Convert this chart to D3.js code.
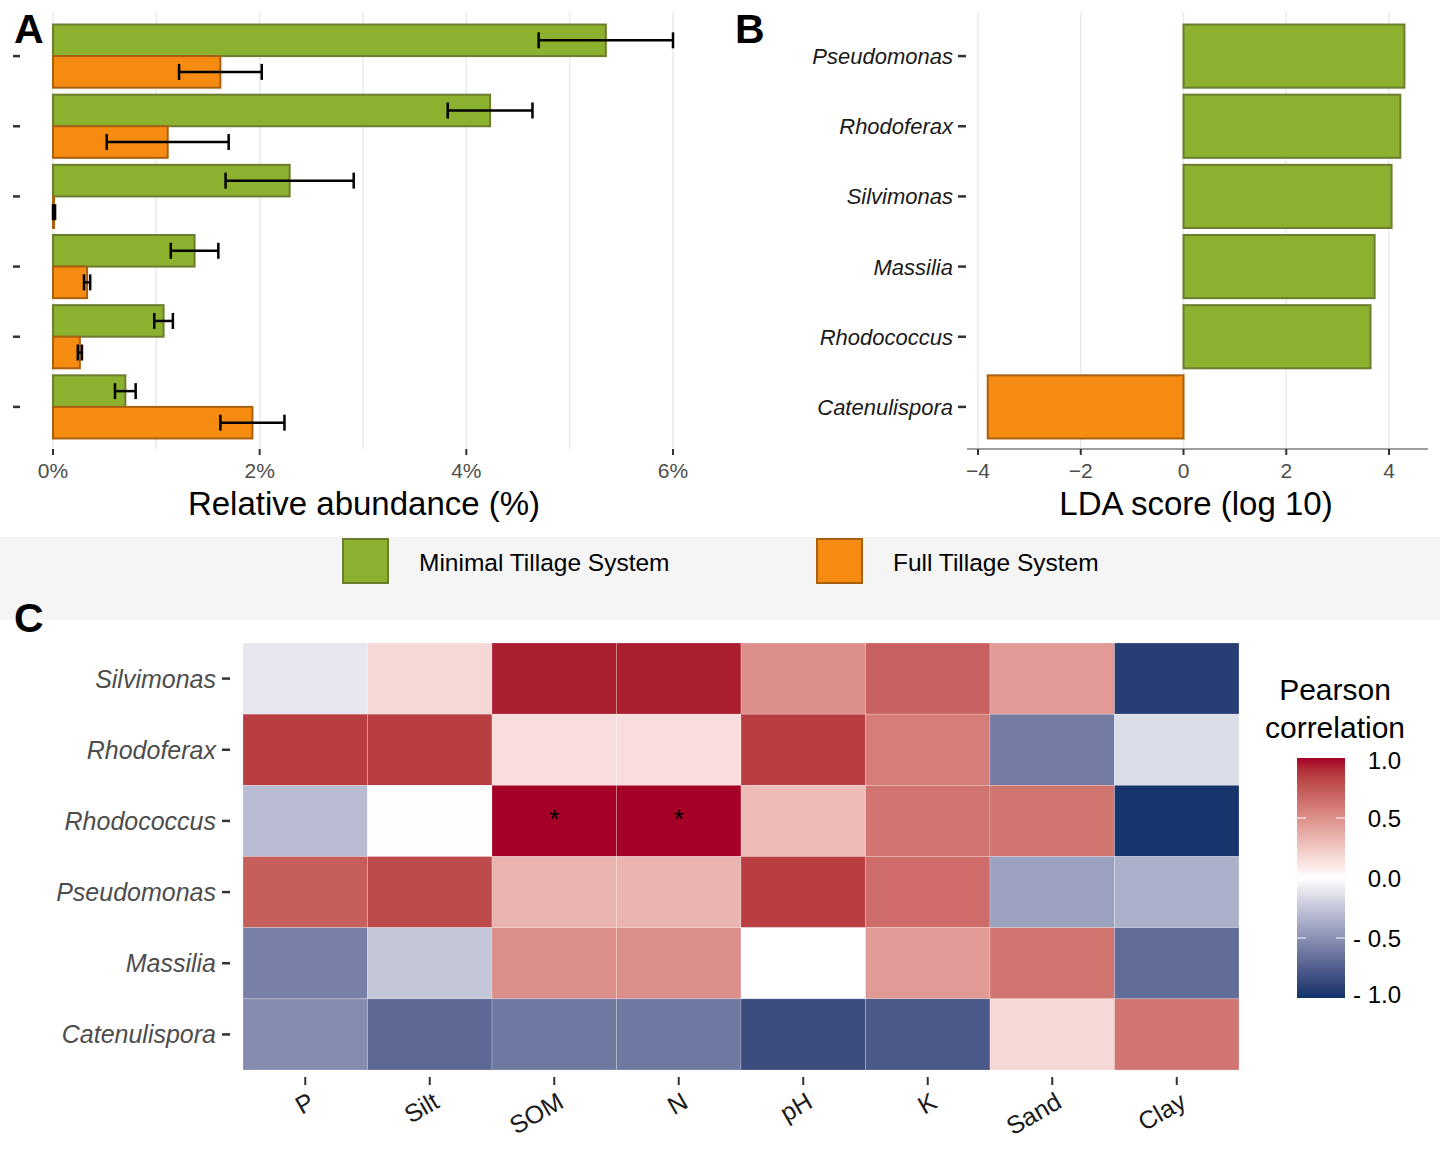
<!DOCTYPE html>
<html>
<head>
<meta charset="utf-8">
<script src="https://cdn.jsdelivr.net/npm/d3@7"></script>
<style>
  body { margin: 0; background: #fff; }
  svg { display: block; font-family: "Liberation Sans", Arial, sans-serif; }
</style>
</head>
<body>
<div class="chart"></div>
<script>
// ---- data ----
var genera = ['Pseudomonas', 'Rhodoferax', 'Silvimonas', 'Massilia', 'Rhodococcus', 'Catenulispora'];
var minimalMean = [5.35, 4.23, 2.29, 1.37, 1.07, 0.70];
var minimalSd   = [0.65, 0.41, 0.62, 0.23, 0.09, 0.10];
var fullMean    = [1.62, 1.11, 0.01, 0.33, 0.26, 1.93];
var fullSd      = [0.40, 0.59, 0.01, 0.03, 0.02, 0.31];
var abundTicks  = [0, 2, 4, 6];

var ldaScores = [4.30, 4.22, 4.05, 3.72, 3.64, -3.81];
var ldaTicks  = [-4, -2, 0, 2, 4];

var systems = ['Minimal Tillage System', 'Full Tillage System'];

var heatRows = ['Silvimonas', 'Rhodoferax', 'Rhodococcus', 'Pseudomonas', 'Massilia', 'Catenulispora'];
var heatCols = ['P', 'Silt', 'SOM', 'N', 'pH', 'K', 'Sand', 'Clay'];
var corr = [
  [-0.10, 0.17, 0.95, 0.95, 0.50, 0.70, 0.45, -0.93],
  [ 0.85, 0.85, 0.15, 0.15, 0.85, 0.58, -0.60, -0.15],
  [-0.30, 0.01, 1.00, 1.00, 0.30, 0.62, 0.62, -0.98],
  [ 0.72, 0.80, 0.33, 0.33, 0.85, 0.66, -0.42, -0.35],
  [-0.58, -0.25, 0.50, 0.50, 0.00, 0.45, 0.62, -0.68],
  [-0.52, -0.70, -0.62, -0.62, -0.85, -0.78, 0.17, 0.62]
];
var signif = [
  [0, 0, 0, 0, 0, 0, 0, 0],
  [0, 0, 0, 0, 0, 0, 0, 0],
  [0, 0, 1, 1, 0, 0, 0, 0],
  [0, 0, 0, 0, 0, 0, 0, 0],
  [0, 0, 0, 0, 0, 0, 0, 0],
  [0, 0, 0, 0, 0, 0, 0, 0]
];
var legendTicks = [1, 0.5, 0, -0.5, -1];
var legendLabels = ['1.0', '0.5', '0.0', '- 0.5', '- 1.0'];

var green = '#8cb12e', greenLine = '#6c7d2f';
var orange = '#f68b12', orangeLine = '#a9600f';
var gridCol = '#ebebeb';

var svg = d3.select('.chart')
  .append('svg')
    .attr('width', 1440)
    .attr('height', 1160);

// ---- panel A ----
var a = svg.append('g');
var xA = d3.scaleLinear().domain([0, 6]).range([53, 673]);
var yA = d3.scalePoint().domain(genera).range([14, 449]).padding(0.6);
var barH = yA.step() * 0.9 / 2;

a.selectAll('.grid')
  .data(d3.range(0, 7))
  .enter().append('line')
    .attr('x1', d => xA(d)).attr('x2', d => xA(d))
    .attr('y1', 12).attr('y2', 449)
    .style('stroke', gridCol).style('stroke-width', 1.6);

var groups = genera.map((g, i) => ({ g: g, i: i }));

a.selectAll('.bm').data(groups).enter().append('rect')
  .attr('x', xA(0))
  .attr('y', d => yA(d.g) - barH)
  .attr('width', d => xA(minimalMean[d.i]) - xA(0))
  .attr('height', barH)
  .style('fill', green).style('stroke', greenLine).style('stroke-width', 2);

a.selectAll('.bf').data(groups).enter().append('rect')
  .attr('x', xA(0))
  .attr('y', d => yA(d.g))
  .attr('width', d => Math.max(1, xA(fullMean[d.i]) - xA(0)))
  .attr('height', barH)
  .style('fill', orange).style('stroke', orangeLine).style('stroke-width', 2);

function errBars(mean, sd, off) {
  groups.forEach(function (d) {
    var cy = yA(d.g) + off;
    var lo = xA(mean[d.i] - sd[d.i]), hi = xA(mean[d.i] + sd[d.i]);
    var e = a.append('g').style('stroke', '#000').style('stroke-width', 2.5);
    e.append('line').attr('x1', lo).attr('x2', hi).attr('y1', cy).attr('y2', cy);
    e.append('line').attr('x1', lo).attr('x2', lo).attr('y1', cy - 8).attr('y2', cy + 8);
    e.append('line').attr('x1', hi).attr('x2', hi).attr('y1', cy - 8).attr('y2', cy + 8);
  });
}
errBars(minimalMean, minimalSd, -barH / 2);
errBars(fullMean, fullSd, barH / 2);

a.selectAll('.ytick').data(genera).enter().append('line')
  .attr('x1', 13).attr('x2', 20)
  .attr('y1', d => yA(d)).attr('y2', d => yA(d))
  .style('stroke', '#333').style('stroke-width', 2.5);

a.selectAll('.xtick').data(abundTicks).enter().append('line')
  .attr('x1', d => xA(d)).attr('x2', d => xA(d))
  .attr('y1', 449).attr('y2', 455)
  .style('stroke', '#333').style('stroke-width', 2);
a.selectAll('.xlab').data(abundTicks).enter().append('text')
  .attr('x', d => xA(d)).attr('y', 478)
  .attr('text-anchor', 'middle')
  .style('font-size', '21px').style('fill', '#4d4d4d')
  .text(d => d + '%');
a.append('text')
  .attr('x', 364).attr('y', 515)
  .attr('text-anchor', 'middle')
  .style('font-size', '33px').style('fill', '#000')
  .text('Relative abundance (%)');
a.append('text')
  .attr('x', 14).attr('y', 43)
  .style('font-size', '41px').style('font-weight', 'bold')
  .text('A');

// ---- panel B ----
var b = svg.append('g');
var xB = d3.scaleLinear().domain([-4.214, 4.759]).range([967, 1428]);

b.selectAll('.grid').data(ldaTicks).enter().append('line')
  .attr('x1', d => xB(d)).attr('x2', d => xB(d))
  .attr('y1', 12).attr('y2', 449)
  .style('stroke', gridCol).style('stroke-width', 1.6);

b.selectAll('.bar').data(groups).enter().append('rect')
  .attr('x', d => xB(Math.min(0, ldaScores[d.i])))
  .attr('y', d => yA(d.g) - barH)
  .attr('width', d => Math.abs(xB(ldaScores[d.i]) - xB(0)))
  .attr('height', barH * 2)
  .style('fill', d => ldaScores[d.i] > 0 ? green : orange)
  .style('stroke', d => ldaScores[d.i] > 0 ? greenLine : orangeLine)
  .style('stroke-width', 2);

b.append('line')
  .attr('x1', 967).attr('x2', 1428).attr('y1', 449).attr('y2', 449)
  .style('stroke', '#9e9e9e').style('stroke-width', 2);
b.selectAll('.xtick').data(ldaTicks).enter().append('line')
  .attr('x1', d => xB(d)).attr('x2', d => xB(d))
  .attr('y1', 449).attr('y2', 455)
  .style('stroke', '#333').style('stroke-width', 2);
b.selectAll('.xlab').data(ldaTicks).enter().append('text')
  .attr('x', d => xB(d)).attr('y', 478)
  .attr('text-anchor', 'middle')
  .style('font-size', '21px').style('fill', '#4d4d4d')
  .text(d => d < 0 ? '\u2212' + Math.abs(d) : d);
b.selectAll('.ylab').data(genera).enter().append('text')
  .attr('x', 953).attr('y', d => yA(d) + 8)
  .attr('text-anchor', 'end')
  .style('font-size', '22px').style('font-style', 'italic').style('fill', '#1a1a1a')
  .text(d => d);
b.selectAll('.ytick').data(genera).enter().append('line')
  .attr('x1', 958).attr('x2', 966)
  .attr('y1', d => yA(d)).attr('y2', d => yA(d))
  .style('stroke', '#333').style('stroke-width', 2.5);
b.append('text')
  .attr('x', 1196).attr('y', 515)
  .attr('text-anchor', 'middle')
  .style('font-size', '33px')
  .text('LDA score (log 10)');
b.append('text')
  .attr('x', 735).attr('y', 43)
  .style('font-size', '41px').style('font-weight', 'bold')
  .text('B');

// ---- shared legend ----
var leg = svg.append('g');
leg.append('rect')
  .attr('x', 0).attr('y', 537).attr('width', 1440).attr('height', 83)
  .style('fill', '#f5f5f5');
var legX = [343, 817];
systems.forEach(function (s, i) {
  leg.append('rect')
    .attr('x', legX[i]).attr('y', 539).attr('width', 45).attr('height', 44)
    .style('fill', i ? orange : green)
    .style('stroke', i ? orangeLine : greenLine).style('stroke-width', 2);
  leg.append('text')
    .attr('x', legX[i] + 76).attr('y', 571)
    .style('font-size', '24.5px')
    .text(s);
});

// ---- panel C ----
var c = svg.append('g');
var xC = d3.scaleBand().domain(heatCols).range([243, 1239]);
var yC = d3.scaleBand().domain(heatRows).range([643, 1070]);
var color = d3.scaleLinear()
  .domain([-1, 0, 1])
  .range(['#10316a', '#ffffff', '#a50026'])
  .interpolate(d3.interpolateLab);

var cells = [];
heatRows.forEach(function (r, i) {
  heatCols.forEach(function (k, j) {
    cells.push({ r: r, k: k, v: corr[i][j], s: signif[i][j] });
  });
});

c.selectAll('.cell').data(cells).enter().append('rect')
  .attr('x', d => xC(d.k)).attr('y', d => yC(d.r))
  .attr('width', xC.bandwidth()).attr('height', yC.bandwidth())
  .style('fill', d => color(d.v))
  .style('stroke', 'rgba(255,255,255,0.35)').style('stroke-width', 0.6);

c.selectAll('.star').data(cells.filter(d => d.s)).enter().append('text')
  .attr('x', d => xC(d.k) + xC.bandwidth() / 2)
  .attr('y', d => yC(d.r) + yC.bandwidth() / 2 + 7)
  .attr('text-anchor', 'middle')
  .style('font-size', '26px')
  .text('*');

c.selectAll('.ylab').data(heatRows).enter().append('text')
  .attr('x', 216).attr('y', d => yC(d) + yC.bandwidth() / 2 + 9)
  .attr('text-anchor', 'end')
  .style('font-size', '25px').style('font-style', 'italic').style('fill', '#4d4d4d')
  .text(d => d);
c.selectAll('.ytick').data(heatRows).enter().append('line')
  .attr('x1', 222).attr('x2', 230)
  .attr('y1', d => yC(d) + yC.bandwidth() / 2).attr('y2', d => yC(d) + yC.bandwidth() / 2)
  .style('stroke', '#333').style('stroke-width', 2.5);

c.selectAll('.xtick').data(heatCols).enter().append('line')
  .attr('x1', d => xC(d) + xC.bandwidth() / 2).attr('x2', d => xC(d) + xC.bandwidth() / 2)
  .attr('y1', 1077).attr('y2', 1085)
  .style('stroke', '#333').style('stroke-width', 2);
c.selectAll('.xlab').data(heatCols).enter().append('text')
  .attr('transform', d => 'translate(' + (xC(d) + xC.bandwidth() / 2 + 2) + ',1091) rotate(-30)')
  .attr('text-anchor', 'end')
  .attr('dy', '0.72em')
  .style('font-size', '25px').style('fill', '#1a1a1a')
  .text(d => d);

c.append('text')
  .attr('x', 14).attr('y', 632)
  .style('font-size', '41px').style('font-weight', 'bold')
  .text('C');

// colour bar
var yLeg = d3.scaleLinear().domain([1, -1]).range([758, 998]);
var defs = svg.append('defs');
var grad = defs.append('linearGradient')
  .attr('id', 'corrGrad')
  .attr('x1', 0).attr('x2', 0).attr('y1', 0).attr('y2', 1);
d3.range(0, 21).forEach(function (i) {
  var v = 1 - i / 10;
  grad.append('stop').attr('offset', (i / 20 * 100) + '%').attr('stop-color', color(v));
});
c.append('rect')
  .attr('x', 1297).attr('y', 758).attr('width', 48).attr('height', 240)
  .style('fill', 'url(#corrGrad)');
[0.5, -0.5].forEach(function (v) {
  c.append('line').attr('x1', 1297).attr('x2', 1306).attr('y1', yLeg(v)).attr('y2', yLeg(v))
    .style('stroke', '#fff').style('stroke-width', 1);
  c.append('line').attr('x1', 1336).attr('x2', 1345).attr('y1', yLeg(v)).attr('y2', yLeg(v))
    .style('stroke', '#fff').style('stroke-width', 1);
});
c.selectAll('.llab').data(legendTicks).enter().append('text')
  .attr('x', 1401).attr('y', (d, i) => yLeg(d) + 9 + (i === 0 ? 2 : 0) + (i === 4 ? -4 : 0))
  .attr('text-anchor', 'end')
  .style('font-size', '24px')
  .text((d, i) => legendLabels[i]);
c.append('text')
  .attr('x', 1335).attr('y', 700)
  .attr('text-anchor', 'middle')
  .style('font-size', '30px')
  .text('Pearson');
c.append('text')
  .attr('x', 1335).attr('y', 738)
  .attr('text-anchor', 'middle')
  .style('font-size', '30px')
  .text('correlation');
</script>
</body>
</html>
